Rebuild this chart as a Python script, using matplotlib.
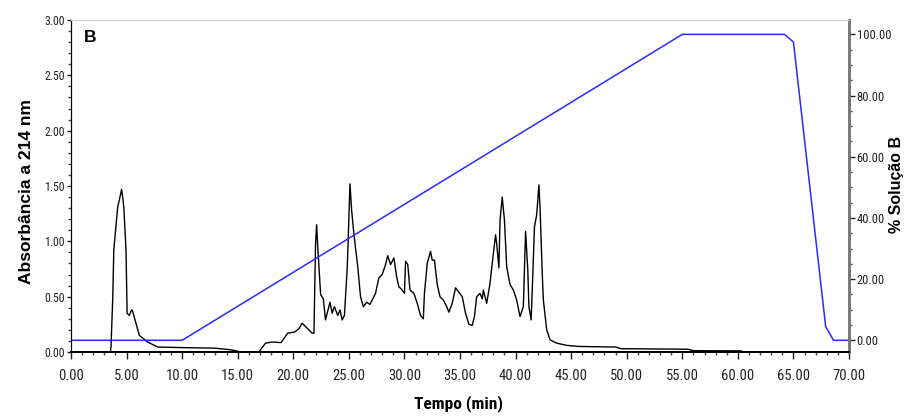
import numpy as np
import matplotlib
matplotlib.use("Agg")
from matplotlib import pyplot as plt
from matplotlib.ticker import MultipleLocator, FormatStrFormatter

# gradient (% solution B) vs time
t_grad = [0.0, 10.0, 55.0, 64.2, 65.0, 67.9, 68.6, 70.0]
pct_b = [0.0, 0.0, 100.0, 100.0, 97.5, 4.5, 0.0, 0.0]

# absorbance at 214 nm vs time
t_abs = [3.55, 3.6, 3.75, 3.85, 4.2, 4.45, 4.55, 4.65, 4.75, 4.95, 5.05, 5.25,
         5.45, 5.54, 5.85, 6.15, 6.9, 7.8, 9.9, 12.9, 14.4, 15.3, 16.9, 17.5,
         18.1, 18.9, 19.5, 20.1, 20.5, 20.8, 21.1, 21.7, 21.86, 22.0, 22.1,
         22.2, 22.46, 22.7, 22.9, 23.3, 23.5, 23.7, 24.0, 24.2, 24.4, 24.6,
         24.86, 25.1, 25.25, 25.45, 25.8, 26.05, 26.3, 26.6, 26.9, 27.1, 27.4,
         27.7, 28.0, 28.3, 28.5, 28.75, 29.05, 29.3, 29.5, 29.8, 30.0, 30.1,
         30.3, 30.5, 30.85, 31.15, 31.45, 31.7, 31.8, 32.05, 32.35, 32.5, 32.7,
         32.95, 33.2, 33.5, 33.8, 34.0, 34.3, 34.6, 34.9, 35.2, 35.5, 35.8,
         36.1, 36.3, 36.5, 36.8, 37.0, 37.1, 37.4, 37.7, 37.9, 38.2, 38.3,
         38.5, 38.6, 38.8, 39.0, 39.2, 39.5, 39.8, 40.1, 40.4, 40.7, 40.8,
         40.9, 41.1, 41.2, 41.4, 41.5, 41.7, 41.9, 42.1, 42.2, 42.4, 42.5,
         42.8, 43.1, 43.7, 44.6, 45.7, 49.0, 49.5, 55.5, 56.0, 60.3, 60.5,
         70.0]
abs_214 = [0.0, 0.05, 0.47, 0.92, 1.31, 1.42, 1.47, 1.40, 1.31, 0.92, 0.35, 0.33,
           0.38, 0.37, 0.26, 0.15, 0.09, 0.045, 0.04, 0.035, 0.02, 0.0, 0.0, 0.08,
           0.09, 0.085, 0.17, 0.18, 0.21, 0.26, 0.23, 0.17, 0.17, 0.97, 1.15,
           0.95, 0.52, 0.48, 0.29, 0.45, 0.35, 0.41, 0.33, 0.38, 0.29, 0.33,
           0.77, 1.52, 1.28, 1.07, 0.77, 0.50, 0.41, 0.45, 0.43, 0.47, 0.53,
           0.67, 0.70, 0.79, 0.87, 0.79, 0.85, 0.68, 0.59, 0.56, 0.53, 0.82,
           0.79, 0.56, 0.53, 0.44, 0.33, 0.30, 0.53, 0.80, 0.91, 0.83, 0.83,
           0.61, 0.50, 0.47, 0.41, 0.36, 0.44, 0.58, 0.54, 0.50, 0.35, 0.25,
           0.24, 0.32, 0.50, 0.53, 0.48, 0.56, 0.44, 0.62, 0.80, 1.06, 0.98,
           0.76, 1.19, 1.40, 1.19, 0.77, 0.61, 0.56, 0.47, 0.32, 0.41, 0.74,
           1.09, 0.74, 0.41, 0.29, 0.56, 1.13, 1.24, 1.51, 1.31, 0.71, 0.47,
           0.20, 0.11, 0.08, 0.06, 0.05, 0.045, 0.03, 0.025, 0.012, 0.01, 0.0,
           0.0]

narrow = ['Roboto Condensed', 'DejaVu Sans']
bold = ['Liberation Sans', 'DejaVu Sans']

fig = plt.figure(figsize=(9.07, 4.18), dpi=100)
ax = fig.add_axes([71/907, 66/418, 778/907, 332/418])
ax2 = ax.twinx()

ax.plot(t_abs, abs_214, color='black', lw=1.0)
ax2.plot(t_grad, pct_b, color='#2a2aff', lw=1.1)

ax.set_xlim(0, 70)
ax.set_ylim(0, 3.0)
ax2.set_ylim(-3.83, 104.7)

ax.xaxis.set_major_locator(MultipleLocator(5))
ax.xaxis.set_minor_locator(MultipleLocator(1))
ax.yaxis.set_major_locator(MultipleLocator(0.5))
ax.yaxis.set_minor_locator(MultipleLocator(0.1))
ax2.yaxis.set_major_locator(MultipleLocator(20))
ax2.yaxis.set_minor_locator(MultipleLocator(5))
ax2.set_ylim(-3.83, 104.7)
for a in (ax.xaxis, ax.yaxis, ax2.yaxis):
    a.set_major_formatter(FormatStrFormatter('%.2f'))

ax.tick_params(axis='y', which='major', length=3, width=1, pad=1.5,
               labelsize=8.5, colors='#222222')
ax.tick_params(axis='y', which='minor', length=2, width=1, colors='#444444')
ax.tick_params(axis='x', which='major', length=5, width=1, pad=7,
               labelsize=10.5, colors='#222222')
ax.tick_params(axis='x', which='minor', length=2, width=1, colors='#444444')
ax2.tick_params(axis='y', which='major', length=4, width=1, pad=1.5,
                labelsize=9, colors='#222222')
ax2.tick_params(axis='y', which='minor', length=2, width=1, colors='#444444')
for lab in ax.get_xticklabels() + ax.get_yticklabels() + ax2.get_yticklabels():
    lab.set_family(narrow)

for a in (ax, ax2):
    a.spines['top'].set_color('#d4d4d4')
    a.spines['left'].set_color('black')
    a.spines['bottom'].set_color('black')
    a.spines['bottom'].set_linewidth(1.3)
    a.spines['right'].set_color('#7a7a7a')
    a.spines['right'].set_linewidth(2)

ax.text(0.017, 0.946, 'B', transform=ax.transAxes, fontsize=12.5,
        fontweight='bold', family=bold, ha='left', va='center')

fig.text(27/907, 1 - 191/418, 'Absorbância a 214 nm', rotation=90,
         ha='center', va='center', fontsize=12.5, fontweight='bold', family=bold)
fig.text(897/907, 1 - 184/418, '% Solução B', rotation=90,
         ha='center', va='center', fontsize=11.5, fontweight='bold', family=bold)
fig.text(459/907, 1 - 404/418, 'Tempo (min)', ha='center', va='center',
         fontsize=12.5, fontweight='bold', family=narrow)

fig.savefig('out.png', dpi=100)
